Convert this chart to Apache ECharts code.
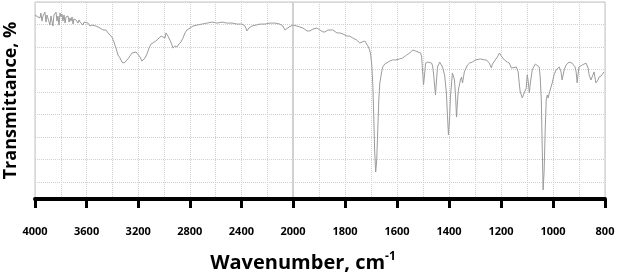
<!DOCTYPE html>
<html>
<head>
<meta charset="utf-8">
<script src="https://cdn.jsdelivr.net/npm/echarts@6/dist/echarts.min.js"></script>
<style>
  html, body { margin: 0; padding: 0; background: #fff; }
  #chart { width: 623px; height: 273px; }
</style>
</head>
<body>
<div id="chart"></div>
<script>
// 4000-2000 cm-1 part of the spectrum (wavenumber, transmittance %)
const wnHigh = [4000, 3985, 3977, 3969, 3961, 3954, 3946, 3938, 3930, 3923, 3915, 3907, 3899, 3892, 3884,
  3876, 3868, 3861, 3853, 3845, 3837, 3830, 3822, 3814, 3806, 3798, 3791, 3783, 3775, 3767, 3760, 3752,
  3744, 3736, 3729, 3721, 3713, 3705, 3698, 3682, 3674, 3667, 3659, 3651, 3636, 3628, 3620, 3605, 3589,
  3574, 3558, 3543, 3527, 3512, 3496, 3473, 3450, 3434, 3419, 3403, 3388, 3372, 3357, 3341, 3326, 3310,
  3295, 3279, 3264, 3248, 3233, 3217, 3202, 3186, 3171, 3163, 3147, 3132, 3116, 3101, 3085, 3070, 3054,
  3039, 3023, 3008, 2992, 2985, 2969, 2954, 2938, 2930, 2915, 2899, 2884, 2868, 2853, 2837, 2822, 2798,
  2775, 2744, 2705, 2667, 2628, 2589, 2550, 2512, 2473, 2434, 2395, 2372, 2357, 2341, 2318, 2287, 2256,
  2217, 2178, 2140, 2101, 2078, 2062, 2047, 2031, 2016, 2000];
const tHigh = [93.4, 94.4, 92.4, 93.4, 91.9, 94.4, 90.3, 92.9, 92.4, 94.9, 89.8, 93.4, 92.9, 94.4, 88.3,
  92.9, 91.9, 87.8, 93.4, 92.4, 94.9, 90.3, 92.9, 88.3, 94.4, 92.4, 93.9, 90.3, 93.4, 89.3, 92.4, 91.4,
  92.9, 89.8, 91.9, 90.3, 92.4, 88.8, 91.4, 90.9, 91.9, 89.3, 90.9, 89.8, 90.3, 88.3, 89.8, 89.3, 89.3,
  87.8, 88.3, 87.3, 87.8, 86.8, 86.8, 85.8, 85.8, 84.3, 83.8, 82.2, 79.7, 76.6, 73.1, 71.6, 69.5, 69.0,
  70.0, 71.1, 72.6, 74.1, 73.6, 74.6, 73.6, 72.1, 70.0, 69.5, 71.6, 73.6, 76.6, 78.7, 79.2, 79.7, 80.7,
  81.7, 82.7, 83.2, 81.7, 84.3, 82.7, 80.7, 78.2, 76.6, 77.7, 77.2, 78.7, 79.7, 81.7, 84.3, 85.8, 86.8,
  87.8, 88.3, 88.8, 89.3, 89.8, 89.3, 89.8, 89.3, 89.3, 88.8, 88.8, 87.8, 85.3, 86.8, 87.8, 88.3, 88.8,
  88.8, 89.3, 89.3, 88.8, 87.8, 85.8, 85.3, 87.3, 88.3, 88.3];

// 2000-800 cm-1 part of the spectrum
const wnLow = [2000, 1985, 1973, 1962, 1946, 1935, 1923, 1908, 1897, 1885, 1877, 1866, 1858, 1847, 1831,
  1820, 1808, 1793, 1782, 1770, 1755, 1743, 1736, 1724, 1712, 1705, 1701, 1697, 1693, 1689, 1686, 1682,
  1678, 1674, 1670, 1666, 1659, 1655, 1647, 1640, 1628, 1617, 1605, 1590, 1578, 1563, 1551, 1540, 1528,
  1521, 1509, 1505, 1502, 1498, 1494, 1490, 1482, 1475, 1467, 1463, 1459, 1452, 1448, 1444, 1436, 1429,
  1425, 1417, 1410, 1406, 1402, 1398, 1394, 1390, 1387, 1383, 1379, 1375, 1371, 1367, 1364, 1356, 1352,
  1348, 1341, 1329, 1321, 1310, 1298, 1291, 1279, 1272, 1264, 1256, 1245, 1237, 1233, 1226, 1214, 1206,
  1199, 1187, 1176, 1168, 1160, 1153, 1141, 1134, 1130, 1126, 1118, 1111, 1103, 1099, 1095, 1091, 1088,
  1080, 1068, 1061, 1053, 1049, 1045, 1042, 1038, 1034, 1030, 1026, 1022, 1019, 1015, 1011, 1003, 996,
  988, 976, 969, 965, 957, 950, 938, 927, 915, 911, 907, 904, 900, 888, 881, 873, 865, 861, 854, 850,
  842, 835, 827, 823, 815, 812, 804];
const tLow = [88.3, 87.8, 87.3, 86.8, 85.3, 85.3, 86.3, 86.8, 85.8, 84.8, 84.8, 85.8, 85.8, 85.8, 84.3,
  84.3, 83.8, 82.7, 82.7, 81.7, 80.7, 79.2, 78.2, 80.2, 77.7, 75.6, 73.1, 68.0, 57.9, 40.1, 24.9, 13.7,
  19.8, 35.0, 50.3, 58.9, 64.5, 67.0, 68.5, 69.0, 70.0, 70.6, 70.6, 71.1, 71.6, 73.1, 74.1, 75.6, 75.1,
  74.6, 74.1, 72.1, 65.5, 57.9, 63.0, 69.0, 69.5, 69.5, 69.0, 67.5, 63.0, 52.8, 60.4, 67.0, 69.5, 69.0,
  67.0, 63.0, 53.8, 42.6, 32.5, 40.1, 52.8, 58.9, 64.0, 62.4, 60.4, 52.8, 41.6, 50.3, 55.3, 60.4, 61.9,
  58.9, 64.5, 68.0, 69.0, 69.5, 70.6, 70.6, 71.1, 71.6, 70.6, 70.6, 69.0, 66.5, 68.5, 69.5, 72.1, 74.1,
  72.6, 70.6, 69.5, 69.0, 66.5, 67.5, 67.0, 64.5, 58.9, 54.3, 51.3, 53.8, 56.3, 63.0, 59.4, 53.8, 57.9,
  65.5, 68.5, 69.0, 67.0, 61.4, 50.3, 29.9, 4.6, 14.7, 35.0, 50.3, 52.8, 51.3, 50.3, 55.3, 58.9, 63.0,
  65.5, 67.0, 64.5, 60.4, 65.5, 68.0, 69.5, 69.0, 67.0, 64.5, 58.9, 63.0, 67.0, 68.0, 68.5, 69.0, 66.5, 63.0, 60.4, 61.4,
  64.5, 58.9, 60.4, 61.9, 62.4, 63.0, 64.5];

// tick labels shown under each part of the axis
const ticksHigh = [4000, 3600, 3200, 2800, 2400];
const ticksLow = [2000, 1800, 1600, 1400, 1200, 1000, 800];

const pairs = (xs, ys) => xs.map((x, i) => [x, ys[i]]);

const dotted = { show: true, lineStyle: { color: '#d0d0d0', type: 'dotted', width: 1 } };
const labelFont = { fontFamily: 'Open Sans', fontWeight: 'bold', fontSize: 11, color: '#000' };

function makeX(gridIndex, min, max, interval, labels) {
  return {
    type: 'value', gridIndex, min, max, interval, inverse: true, offset: 5,
    axisLine: { show: true, lineStyle: { color: '#000', width: 4 } },
    axisTick: { show: true, length: 9, lineStyle: { color: '#000', width: 3 } },
    axisLabel: Object.assign({
      margin: 22, showMinLabel: true, showMaxLabel: true,
      formatter: v => labels.includes(v) ? String(v) : ''
    }, labelFont),
    splitLine: dotted,
    minorTick: { show: false, splitNumber: 2 },
    minorSplitLine: dotted
  };
}

function makeYData(gridIndex) {
  return { type: 'value', gridIndex, position: 'left', min: 0, max: 100, show: false };
}
function makeYLines(gridIndex, name) {
  return {
    type: 'value', gridIndex, position: 'left', inverse: true, min: 0, max: 197 / 2.25, interval: 10,
    axisLine: { show: false }, axisTick: { show: false }, axisLabel: { show: false },
    splitLine: dotted,
    name: name, nameLocation: 'middle', nameGap: 15, nameRotate: 90,
    nameTextStyle: { fontFamily: 'Open Sans', fontWeight: 'bold', fontSize: 18, color: '#000' }
  };
}

const chart = echarts.init(document.getElementById('chart'), null, { renderer: 'canvas' });
chart.setOption({
  animation: false,
  backgroundColor: '#fff',
  title: {
    text: 'Wavenumber, cm{sup|-1}',
    left: 298, top: 246, textAlign: 'center',
    textStyle: {
      fontFamily: 'Open Sans', fontWeight: 'bold', fontSize: 20, color: '#000',
      rich: { sup: { fontFamily: 'Open Sans', fontWeight: 'bold', fontSize: 12, color: '#000', padding: [0, 0, 12, 0] } }
    }
  },
  grid: [
    { left: 35, top: 2, width: 258, height: 197, show: true, borderColor: '#c4c4c4', borderWidth: 1, outerBoundsMode: 'none' },
    { left: 293, top: 2, width: 312, height: 197, show: true, borderColor: '#c4c4c4', borderWidth: 1, outerBoundsMode: 'none' }
  ],
  xAxis: [
    makeX(0, 2000, 4000, 400, ticksHigh),
    makeX(1, 800, 2000, 200, ticksLow)
  ],
  yAxis: [
    makeYData(0), makeYLines(0, 'Transmittance, %'),
    makeYData(1), makeYLines(1, '')
  ],
  series: [
    { type: 'line', xAxisIndex: 0, yAxisIndex: 0, data: pairs(wnHigh, tHigh), symbol: 'none',
      lineStyle: { color: '#9c9c9c', width: 1 } },
    { type: 'line', xAxisIndex: 1, yAxisIndex: 2, data: pairs(wnLow, tLow), symbol: 'none',
      lineStyle: { color: '#9c9c9c', width: 1 } }
  ]
});
</script>
</body>
</html>
